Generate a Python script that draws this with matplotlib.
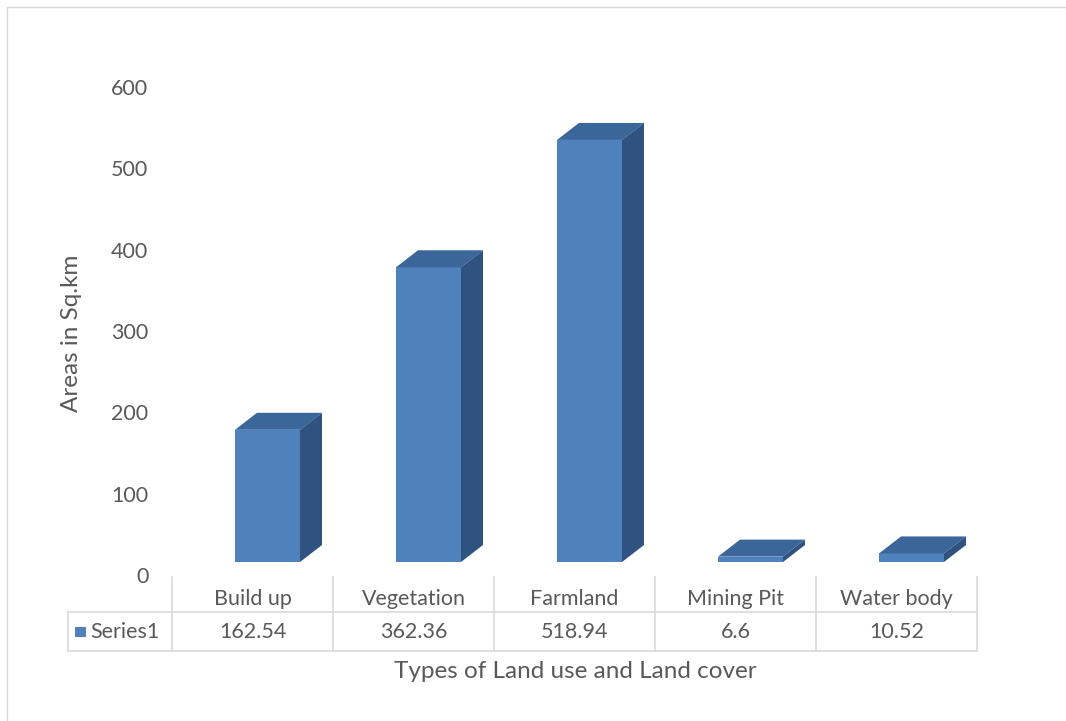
import numpy as np
import matplotlib.pyplot as plt
from matplotlib.patches import Polygon, Rectangle
from matplotlib.lines import Line2D
from matplotlib.transforms import blended_transform_factory

categories = ['Build up', 'Vegetation', 'Farmland', 'Mining Pit', 'Water body']
values = [162.54, 362.36, 518.94, 6.6, 10.52]
value_labels = ['162.54', '362.36', '518.94', '6.6', '10.52']
series_name = 'Series1'
y_ticks = [0, 100, 200, 300, 400, 500, 600]

W, H = 1066, 721
fig = plt.figure(figsize=(W / 100, H / 100), dpi=100)
plt.rcParams['font.family'] = ['Lato', 'DejaVu Sans']
txt = '#595959'
front_c, top_c, side_c = '#4F81BD', '#3B6699', '#2F5280'
fs = 15.5

# plot area in pixels
x0, x1 = 172, 977
y_zero, px_per_unit = 575, (575 - 87) / 600
ymax = 640
ax = fig.add_axes([x0 / W, (H - y_zero) / H, (x1 - x0) / W, ymax * px_per_unit / H])
ax.set_xlim(-0.5, len(categories) - 0.5)
ax.set_ylim(0, ymax)
for s in ax.spines.values():
    s.set_visible(False)
ax.set_xticks([])
ax.set_yticks(y_ticks)
ax.tick_params(axis='y', length=0, pad=17, labelsize=fs, labelcolor=txt)

cat_px = (x1 - x0) / len(categories)
dx = 22 / cat_px            # depth in category units
dy = 17 / px_per_unit       # depth in value units
base = 13 / px_per_unit     # floor offset
left_off, width = 63 / cat_px - 0.5, 65 / cat_px

for i, v in enumerate(values):
    l, r = i + left_off, i + left_off + width
    b, t = base, base + v
    ax.add_patch(Polygon([(l, b), (r, b), (r, t), (l, t)], closed=True, fc=front_c, ec='none'))
    ax.add_patch(Polygon([(l, t), (r, t), (r + dx, t + dy), (l + dx, t + dy)], closed=True, fc=top_c, ec='none'))
    ax.add_patch(Polygon([(r, b), (r + dx, b + dy), (r + dx, t + dy), (r, t)], closed=True, fc=side_c, ec='none'))

# data table below the plot
tr = blended_transform_factory(ax.transData, fig.transFigure)
def fy(p):
    return 1 - p / H
def dxp(p):
    return (p - x0) / cat_px - 0.5

line_c = '#D9D9D9'
bounds = np.arange(len(categories) + 1) - 0.5
for xb in bounds:
    ax.plot([xb, xb], [fy(577), fy(651)], color=line_c, lw=1.2, transform=tr, clip_on=False)
tl = dxp(68)
ax.plot([tl, bounds[-1]], [fy(612), fy(612)], color=line_c, lw=1.2, transform=tr, clip_on=False)
ax.plot([tl, bounds[-1]], [fy(651), fy(651)], color=line_c, lw=1.2, transform=tr, clip_on=False)
ax.plot([tl, tl], [fy(612), fy(651)], color=line_c, lw=1.2, transform=tr, clip_on=False)

for i, (c, lab) in enumerate(zip(categories, value_labels)):
    ax.text(i, fy(599), c, ha='center', va='center', fontsize=fs, color=txt, transform=tr)
    ax.text(i, fy(632), lab, ha='center', va='center', fontsize=fs, color=txt, transform=tr)

ax.add_patch(Rectangle((dxp(75), fy(637)), 11 / cat_px, 10 / H, fc=front_c, ec='none',
                       transform=tr, clip_on=False))
ax.text(dxp(90), fy(632), series_name, ha='left', va='center', fontsize=fs, color=txt, transform=tr)

fig.text(575 / W, fy(672), 'Types of Land use and Land cover', ha='center', va='center',
         fontsize=17.5, color=txt)
fig.text(72 / W, fy(333), 'Areas in Sq.km', ha='center', va='center', rotation=90,
         fontsize=17.5, color=txt)

# chart border (top and left edges visible)
fig.lines.append(Line2D([7 / W, 7 / W, 1], [0, fy(7), fy(7)], transform=fig.transFigure,
                        color=line_c, lw=1))

fig.savefig('out.png', dpi=100)
